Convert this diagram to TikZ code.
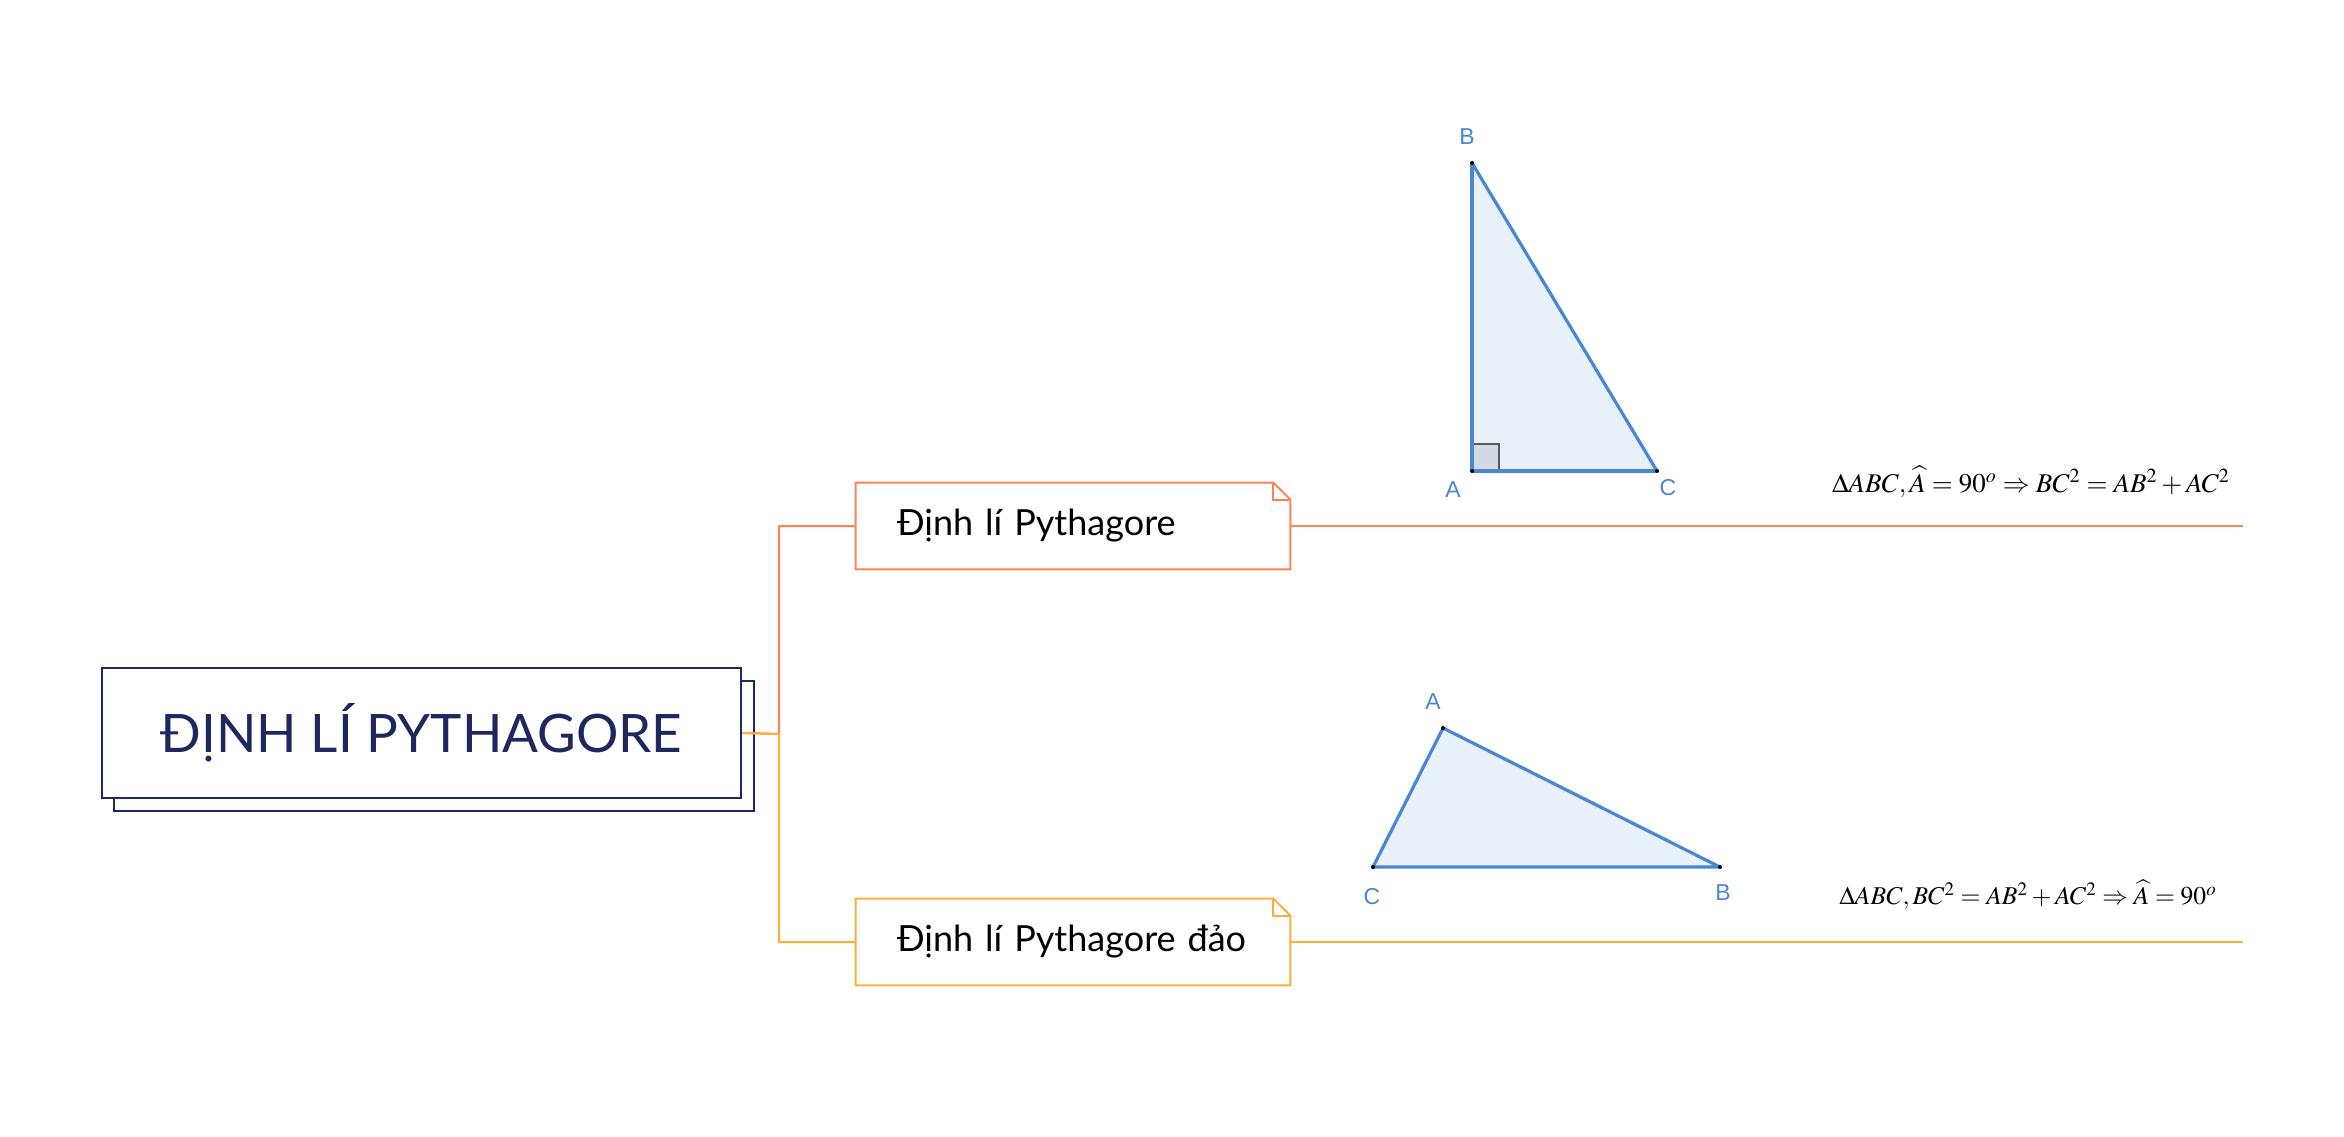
\documentclass[tikz,border=0pt]{standalone}
\usepackage{mathptmx}
\usepackage[no-math]{fontspec}
\newfontfamily\latofont{Lato}
\newfontfamily\arialfont{Liberation Sans}
\definecolor{navy}{HTML}{1F2761}
\definecolor{branchone}{HTML}{FF8254}
\definecolor{branchtwo}{HTML}{FDAD3C}
\definecolor{geoblue}{HTML}{4A86D2}
\definecolor{geofill}{HTML}{E8F0FA}
\definecolor{sqfill}{HTML}{D3D9E3}

\begin{document}
\begin{tikzpicture}[x=0.5pt,y=-0.5pt,
	rootbox/.style={draw=navy,line width=1.2pt,fill=white,minimum width=319.5pt,minimum height=65pt,inner sep=0pt,text=navy,font=\latofont\fontsize{26.5}{30}\selectfont},
	branch/.style={fill=white,text width=176pt,inner xsep=20.5pt,inner ysep=0pt,minimum height=43pt,align=left,font=\latofont\fontsize{18}{22}\selectfont},
	vlabel/.style={inner sep=0pt,text=geoblue,font=\arialfont\fontsize{11.5}{13}\selectfont},
	tri/.style={draw=geoblue,fill=geofill,line width=1.6pt,line join=round},
	formula/.style={inner sep=0pt,font=\fontsize{12.8}{15}\selectfont}]

	\useasboundingbox (0,0) rectangle (2344,1136);

	% root
	\draw[navy,line width=1.2pt] (114,681) rectangle (754,811);
	\node[rootbox] (root) at (421.5,733) {ĐỊNH LÍ PYTHAGORE};

	% branches
	\node[branch] (b_1) at (1073,526) {Định lí Pythagore};
	\node[branch] (b_2) at (1073,942) {Định lí Pythagore đảo};
	\coordinate (j) at (779,734);
	\coordinate (e_1) at (2243,526);
	\coordinate (e_2) at (2243,942);

	\draw[branchone,line width=1pt] (root.east) -- (j) |- (b_1.west);
	\draw[branchtwo,line width=1pt] (root.east) -- (j) |- (b_2.west);
	\draw[branchone,line width=1pt] (b_1.east) -- (e_1);
	\draw[branchtwo,line width=1pt] (b_2.east) -- (e_2);

	\foreach \b/\c in {b_1/branchone,b_2/branchtwo} {
		\draw[\c,line width=1pt,line join=round] (\b.south west) -- (\b.north west)
			-- ([xshift=-8.5pt]\b.north east) -- ([yshift=-8.5pt]\b.north east)
			-- (\b.south east) -- cycle;
		\draw[\c,line width=1pt] ([xshift=-8.5pt]\b.north east) |- ([yshift=-8.5pt]\b.north east);
	}

	% formulas
	\node[formula,font=\fontsize{13.5}{16}\selectfont] (f_1) at (2031,482) {$\Delta ABC,\widehat{A}=90^o\Rightarrow BC^2=AB^2+AC^2$};
	\node[formula] (f_2) at (2028,895) {$\Delta ABC,BC^2=AB^2+AC^2\Rightarrow\widehat{A}=90^o$};

	% right triangle
	\coordinate (A_1) at (1472,471);
	\coordinate (B_1) at (1472,163);
	\coordinate (C_1) at (1657,471);
	\draw[tri] (A_1) -- (B_1) -- (C_1) -- cycle;
	\draw[draw=black!65,fill=sqfill,line width=1pt] (A_1) rectangle ++(27,-27);
	\draw[geoblue,line width=1.6pt] (A_1) -- (B_1) (A_1) -- (C_1);
	\node[vlabel] (l_A1) at (1453,490) {A};
	\node[vlabel] (l_B1) at (1467,137) {B};
	\node[vlabel] (l_C1) at (1668,488) {C};

	% converse triangle
	\coordinate (A_2) at (1443,728);
	\coordinate (B_2) at (1720,867);
	\coordinate (C_2) at (1373,867);
	\draw[tri] (A_2) -- (B_2) -- (C_2) -- cycle;
	\node[vlabel] (l_A2) at (1433,702) {A};
	\node[vlabel] (l_B2) at (1723,893) {B};
	\node[vlabel] (l_C2) at (1372,897) {C};

	\foreach \p in {A_1,B_1,C_1,A_2,B_2,C_2}
		\fill (\p) circle (1pt);

\end{tikzpicture}
\end{document}
